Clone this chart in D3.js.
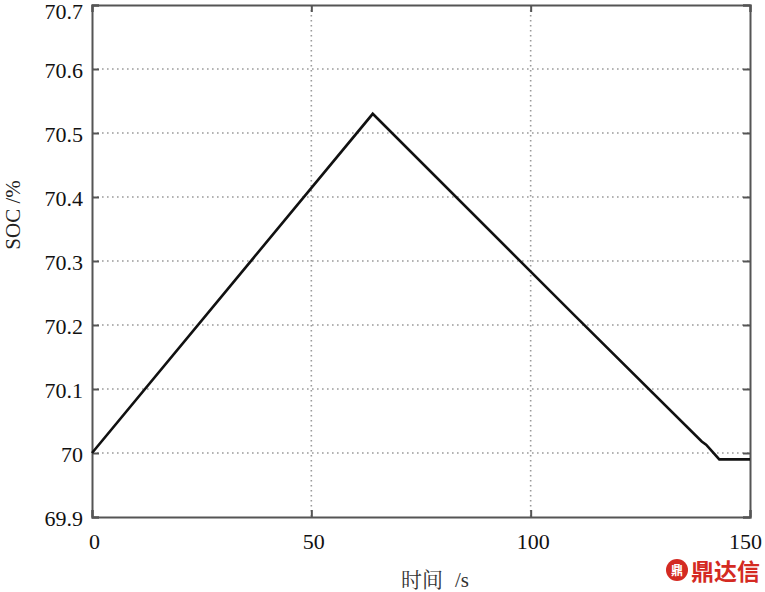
<!DOCTYPE html>
<html><head><meta charset="utf-8">
<script src="https://cdn.jsdelivr.net/npm/d3@7"></script>
<style>body{margin:0;background:#fff}svg{display:block}</style>
</head><body>
<svg id="c" width="765" height="592"></svg>
<script>
const timeS = [0, 64, 110, 139, 140, 143, 150];
const socPct = [70.0, 70.53, 70.215, 70.018, 70.013, 69.99, 69.99];
const xTicks = [0, 50, 100, 150];
const yTicks = [69.9, 70.0, 70.1, 70.2, 70.3, 70.4, 70.5, 70.6, 70.7];
const yTickLabels = ["69.9", "70", "70.1", "70.2", "70.3", "70.4", "70.5", "70.6", "70.7"];
const xTitleCn = "时间";
const xTitleUnit = "/s";
const yTitle = "SOC /%";

const svg = d3.select("#c");
const L = 92, R = 750, T = 5, B = 517;
const x = d3.scaleLinear().domain([0, 150]).range([L, R]);
const y = d3.scaleLinear().domain([69.9, 70.7]).range([B, T]);
const SERIF = "'Liberation Serif'";

// grid
const g = svg.append("g");
g.selectAll(".gx").data(xTicks.slice(1, -1)).join("line")
  .attr("x1", d => x(d)).attr("x2", d => x(d)).attr("y1", T).attr("y2", B)
  .attr("stroke", "#9a9a9a").attr("stroke-width", 1.6).attr("stroke-dasharray", "1.6,3.4");
g.selectAll(".gy").data(yTicks.slice(1, -1)).join("line")
  .attr("y1", d => y(d)).attr("y2", d => y(d)).attr("x1", L).attr("x2", R)
  .attr("stroke", "#9a9a9a").attr("stroke-width", 1.6).attr("stroke-dasharray", "1.6,3.4");

// axes with inward ticks
const ax = d3.axisBottom(x).tickValues(xTicks).tickSize(-7).tickPadding(16).tickFormat(d3.format("d"));
const ay = d3.axisLeft(y).tickValues(yTicks).tickSize(-7).tickPadding(9).tickFormat((d, i) => yTickLabels[i]);
const axR = d3.axisRight(y).tickValues(yTicks).tickSize(-7).tickFormat("");
const axT = d3.axisTop(x).tickValues(xTicks).tickSize(-7).tickFormat("");
function styleAxis(sel) {
  sel.attr("font-family", null).attr("font-size", null);
  sel.selectAll("path,line").attr("stroke", "#555").attr("stroke-width", 2);
  sel.selectAll("text").attr("fill", "#111").attr("style", `font-family:${SERIF};font-size:22px`);
}
const gxA = svg.append("g").attr("transform", `translate(0,${B})`).call(ax).call(styleAxis);
gxA.selectAll("text").attr("dx", d => d === 150 ? -5 : 2);
const gyA = svg.append("g").attr("transform", `translate(${L},0)`).call(ay).call(styleAxis);
gyA.selectAll("text").attr("dy", d => d === 70.7 ? "0.62em" : "0.4em");
svg.append("g").attr("transform", `translate(${R},0)`).call(axR).call(styleAxis);
svg.append("g").attr("transform", `translate(0,${T})`).call(axT).call(styleAxis);
svg.selectAll(".domain").attr("stroke", "#555").attr("stroke-width", 2);

// line
const pts = timeS.map((t, i) => [t, socPct[i]]);
svg.append("path").datum(pts)
  .attr("d", d3.line().x(d => x(d[0])).y(d => y(d[1])))
  .attr("fill", "none").attr("stroke", "#111").attr("stroke-width", 2.6).attr("stroke-linejoin", "miter");

// titles
const xt = svg.append("text").attr("x", 435).attr("y", 587).attr("text-anchor", "middle")
  .attr("fill", "#333").attr("style", "font-size:21px");
xt.append("tspan").attr("style", "font-family:'Noto Serif CJK SC'").text(xTitleCn);
xt.append("tspan").attr("dx", 12).attr("style", `font-family:${SERIF}`).text(xTitleUnit);
svg.append("text").attr("transform", "translate(20,215) rotate(-90)").attr("text-anchor", "middle")
  .attr("style", `font-family:${SERIF};font-size:21px`).attr("fill", "#222").text(yTitle);

// watermark
const wm = svg.append("g").attr("fill", "#d42a22");
wm.append("circle").attr("cx", 677).attr("cy", 570).attr("r", 11);
wm.append("text").attr("x", 677).attr("y", 575).attr("text-anchor", "middle").attr("fill", "#fff")
  .attr("style", "font-family:'Noto Sans CJK SC';font-size:12px;font-weight:bold").text("鼎");
wm.append("text").attr("x", 691).attr("y", 580)
  .attr("style", "font-family:'Noto Sans CJK SC';font-size:23px;font-weight:bold").text("鼎达信");
</script>
</body></html>
